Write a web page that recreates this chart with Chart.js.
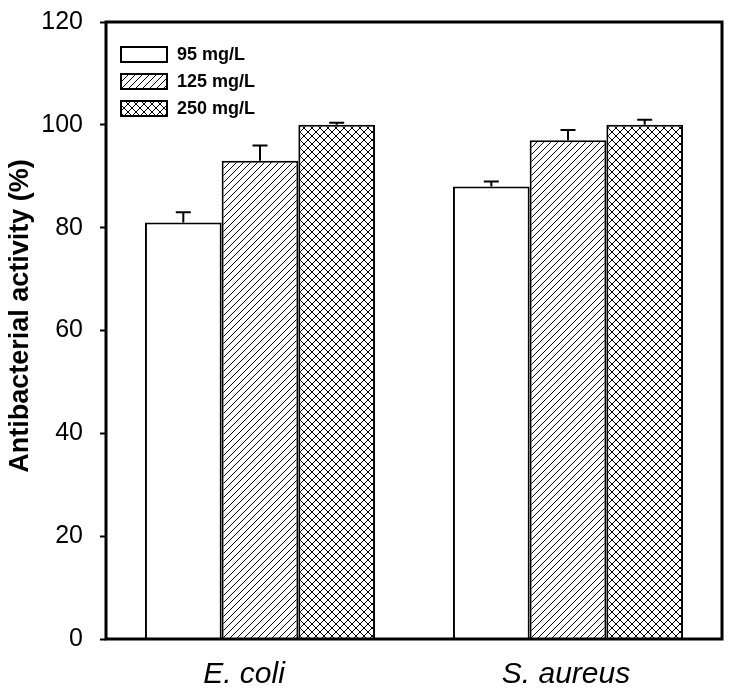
<!DOCTYPE html>
<html>
<head>
<meta charset="utf-8">
<script src="https://cdn.jsdelivr.net/npm/chart.js@4.4.1/dist/chart.umd.min.js"></script>
<style>
html,body{margin:0;padding:0;background:#fff;}
#wrap{width:734px;height:692px;position:relative;}
</style>
</head>
<body>
<div id="wrap"><canvas id="c" width="734" height="692"></canvas></div>
<script>
const categories = ['E. coli', 'S. aureus'];
const seriesLabels = ['95 mg/L', '125 mg/L', '250 mg/L'];
const values95 = [81, 88];
const values125 = [93, 97];
const values250 = [100, 100];
const err95 = [2, 1];
const err125 = [3, 2];
const err250 = [0.4, 1];
const yTicks = [0, 20, 40, 60, 80, 100, 120];
const yTitle = 'Antibacterial activity (%)';

const FONT = '"Liberation Sans", Arial, sans-serif';

function makePattern(kind) {
  const s = kind === 'diag' ? 7 : 8;
  const c = document.createElement('canvas');
  c.width = s; c.height = s;
  const g = c.getContext('2d');
  g.fillStyle = '#fff';
  g.fillRect(0, 0, s, s);
  g.strokeStyle = '#000';
  g.lineWidth = 1;
  g.beginPath();
  if (kind === 'diag') {
    g.moveTo(-1, s + 1); g.lineTo(s + 1, -1);
    g.moveTo(-1, 1); g.lineTo(1, -1);
    g.moveTo(s - 1, s + 1); g.lineTo(s + 1, s - 1);
  } else if (kind === 'cross') {
    g.moveTo(0, 0); g.lineTo(s, s);
    g.moveTo(0, s); g.lineTo(s, 0);
  }
  g.stroke();
  return g.createPattern(c, 'repeat');
}
const ctx0 = document.getElementById('c').getContext('2d');
const fills = ['#ffffff', makePattern('diag'), makePattern('cross')];

const errs = [err95, err125, err250];

const errorBarPlugin = {
  id: 'errbars',
  afterDatasetsDraw(chart) {
    const ctx = chart.ctx;
    const y = chart.scales.y;
    ctx.save();
    ctx.strokeStyle = '#000';
    ctx.lineWidth = 2;
    chart.data.datasets.forEach((ds, di) => {
      const meta = chart.getDatasetMeta(di);
      meta.data.forEach((bar, i) => {
        const v = ds.data[i];
        const e = errs[di][i];
        const x = bar.x;
        const y0 = y.getPixelForValue(v);
        const y1 = y.getPixelForValue(v + e);
        ctx.beginPath();
        ctx.moveTo(x, y0); ctx.lineTo(x, y1);
        ctx.moveTo(x - 7.5, y1); ctx.lineTo(x + 7.5, y1);
        ctx.stroke();
      });
    });
    ctx.restore();
  }
};

const framePlugin = {
  id: 'frame',
  afterDraw(chart) {
    const ctx = chart.ctx;
    const a = chart.chartArea;
    ctx.save();
    ctx.strokeStyle = '#000';
    ctx.lineWidth = 3;
    ctx.strokeRect(a.left, a.top, a.right - a.left, a.bottom - a.top);
    // y title
    ctx.save();
    ctx.translate(21, 316);
    ctx.rotate(-Math.PI / 2);
    ctx.font = 'bold 27px ' + FONT;
    ctx.fillStyle = '#000';
    ctx.textAlign = 'center';
    ctx.textBaseline = 'middle';
    ctx.fillText(yTitle, 0, 0);
    ctx.restore();
    // x labels
    const xs = chart.scales.x;
    ctx.font = 'italic 30px ' + FONT;
    ctx.fillStyle = '#000';
    ctx.textAlign = 'center';
    ctx.textBaseline = 'middle';
    const shifts = [-16, -2];
    categories.forEach((c, i) => {
      ctx.fillText(c, xs.getPixelForValue(i) + shifts[i], 675);
    });
    // legend
    const bx = 121, bw = 46, bh = 15;
    const bys = [47, 74, 101];
    ctx.font = 'bold 18px ' + FONT;
    ctx.textBaseline = 'middle';
    ctx.textAlign = 'left';
    for (let i = 0; i < 3; i++) {
      ctx.fillStyle = fills[i];
      ctx.fillRect(bx, bys[i], bw, bh);
      ctx.lineWidth = 2;
      ctx.strokeStyle = '#000';
      ctx.strokeRect(bx, bys[i], bw, bh);
      ctx.fillStyle = '#000';
      ctx.fillText(seriesLabels[i], 177, bys[i] + bh / 2 + 1);
    }
    ctx.restore();
  }
};

new Chart(ctx0, {
  type: 'bar',
  data: {
    labels: categories,
    datasets: [
      { label: seriesLabels[0], data: values95, backgroundColor: fills[0] },
      { label: seriesLabels[1], data: values125, backgroundColor: fills[1] },
      { label: seriesLabels[2], data: values250, backgroundColor: fills[2] }
    ]
  },
  options: {
    responsive: false,
    animation: false,
    devicePixelRatio: 1,
    layout: { padding: { left: 0, right: 12, top: 22, bottom: 0 } },
    datasets: {
      bar: {
        borderColor: '#000',
        borderWidth: 2,
        borderSkipped: 'bottom',
        categoryPercentage: 0.747,
        barPercentage: 1.0
      }
    },
    plugins: {
      legend: { display: false },
      tooltip: { enabled: false }
    },
    scales: {
      x: {
        grid: { display: false, drawTicks: false },
        border: { display: false },
        ticks: { display: false },
        afterFit(s) { s.height = 53; s.paddingLeft = 0; s.paddingRight = 0; }
      },
      y: {
        min: 0, max: 120,
        afterBuildTicks(s) { s.ticks = yTicks.map(v => ({ value: v })); },
        grid: { drawOnChartArea: false, drawTicks: true, tickLength: 6, tickColor: '#000', tickWidth: 2 },
        border: { display: false },
        ticks: {
          color: '#000',
          padding: 17,
          font: { family: FONT, size: 25 }
        },
        afterFit(s) { s.width = 106; s.paddingTop = 0; s.paddingBottom = 0; }
      }
    }
  },
  plugins: [errorBarPlugin, framePlugin]
});
</script>
</body>
</html>
